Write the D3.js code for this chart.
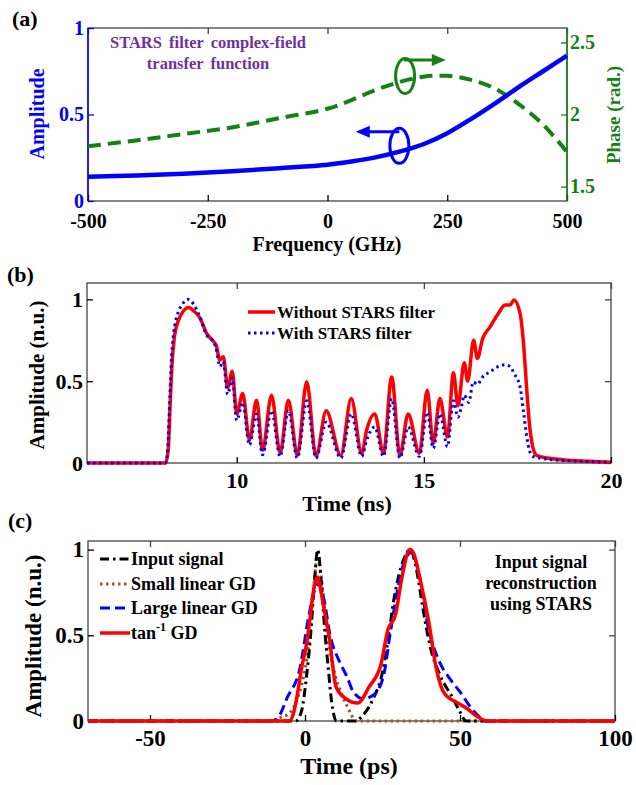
<!DOCTYPE html>
<html><head><meta charset="utf-8">
<script src="https://cdn.jsdelivr.net/npm/d3@7"></script>
<style>
body{margin:0;background:#fff;}
text{font-family:"Liberation Serif","Times New Roman",serif;font-weight:bold;}
</style>
</head><body>
<svg id="chart" width="636" height="785"></svg>
<script>
// ---------- Panel (a) data ----------
const freqGHz   = [-500,-400,-300,-200,-100,0,50,100,150,200,250,300,350,400,450,500];
const amplitude = [0.14,0.148,0.158,0.172,0.19,0.21,0.228,0.252,0.285,0.328,0.392,0.475,0.565,0.66,0.75,0.84];
const phaseRad  = [1.78,1.82,1.865,1.91,1.975,2.04,2.1,2.17,2.225,2.262,2.268,2.24,2.18,2.07,1.93,1.74];
const ticksA_x  = [-500,-250,0,250,500];
const ticksA_yL = [0,0.5,1];
const ticksA_yR = [1.5,2,2.5];

// ---------- Panel (b) data ----------
const timeNoFilter = [6,8.1,8.17,8.22,8.27,8.33,8.44,8.55,8.71,8.85,9.02,9.2,9.35,9.45,9.55,9.64,9.76,9.88,10.0,10.16,10.34,10.53,10.69,10.93,11.16,11.38,11.62,11.87,12.12,12.39,12.78,13.06,13.34,13.47,13.69,13.92,14.14,14.36,14.58,14.88,15.09,15.25,15.43,15.63,15.79,15.91,16.08,16.17,16.33,16.43,16.57,16.77,16.99,17.17,17.3,17.41,17.57,17.67,17.75,17.82,17.91,18.01,18.3,19,20];
const ampNoFilter  = [0,0,0.08,0.35,0.6,0.76,0.87,0.92,0.95,0.93,0.886,0.79,0.75,0.72,0.63,0.65,0.46,0.56,0.30,0.425,0.14,0.384,0.078,0.414,0.061,0.384,0.047,0.496,0.041,0.32,0.047,0.394,0.058,0.2,0.30,0.06,0.526,0.047,0.30,0.06,0.445,0.119,0.394,0.16,0.552,0.35,0.613,0.50,0.75,0.639,0.76,0.832,0.914,0.965,0.965,0.996,0.914,0.71,0.445,0.24,0.098,0.047,0.03,0.015,0.005];
const timeFilter = [6,8.1,8.16,8.21,8.26,8.32,8.42,8.55,8.69,8.85,9.02,9.2,9.35,9.45,9.55,9.64,9.76,9.88,10.0,10.16,10.34,10.53,10.69,10.93,11.16,11.38,11.62,11.87,12.12,12.39,12.78,13.06,13.34,13.47,13.69,13.92,14.14,14.36,14.58,14.88,15.09,15.25,15.43,15.63,15.79,15.91,16.0,16.08,16.2,16.32,16.43,16.57,16.77,16.99,17.17,17.3,17.41,17.57,17.67,17.75,17.82,17.91,18.1,19,20];
const ampFilter  = [0,0,0.10,0.38,0.65,0.80,0.91,0.97,1.0,0.97,0.89,0.78,0.75,0.70,0.59,0.62,0.42,0.52,0.26,0.37,0.11,0.30,0.05,0.32,0.04,0.32,0.03,0.38,0.03,0.25,0.03,0.30,0.04,0.14,0.22,0.04,0.394,0.03,0.22,0.04,0.31,0.09,0.30,0.10,0.38,0.28,0.34,0.414,0.37,0.496,0.48,0.526,0.557,0.59,0.60,0.59,0.547,0.465,0.30,0.16,0.078,0.04,0.03,0.012,0.005];
const ticksB_x = [10,15,20];
const ticksB_y = [0,0.5,1];

// ---------- Panel (c) data ----------
const tInput   = [-70,-3,-1.1,0.55,1.8,3,4.1,5.2,6.5,7.5,8.6,10.2,16,19,22,25.3,27,28.5,30,32,33.9,36,38,40.3,43.5,47.8,49.8,52,100];
const aInput   = [0,0,0.06,0.27,0.5,0.8,1.0,0.82,0.5,0.31,0.11,0,0,0.04,0.13,0.31,0.5,0.69,0.83,0.95,1.0,0.88,0.66,0.44,0.27,0.13,0.06,0,0];
const tSmall   = [-70,-12,-8,-4.8,-2.1,0,1.6,3,4.1,5.2,7.2,9.7,12,13.5,16.7,100];
const aSmall   = [0,0,0.02,0.05,0.15,0.3,0.5,0.82,0.98,0.85,0.5,0.27,0.15,0.09,0,0];
const tLarge   = [-70,-10.2,-8,-5.9,-1.6,1.1,3,4.5,6,8.1,11.3,13.5,15.6,18.8,22,25.3,27.4,30.1,32,34.4,36.5,39.8,43.5,47,50,54.3,58.6,100];
const aLarge   = [0,0,0.04,0.13,0.31,0.6,0.76,0.8,0.72,0.5,0.34,0.26,0.17,0.13,0.15,0.26,0.5,0.79,0.93,0.985,0.88,0.54,0.34,0.24,0.17,0.06,0,0];
const tArctan  = [-70,-5,-3.8,-2.7,-1.2,0.5,1.5,2.5,4.1,5.2,6.5,7.8,10,13.2,17,20.7,24.5,26.7,29.2,31.3,33.8,35,37.2,40,42.3,45,49.8,52.5,55.2,59,100];
const aArctan  = [0,0,0.04,0.13,0.3,0.45,0.58,0.73,0.84,0.75,0.62,0.49,0.2,0.13,0.105,0.2,0.33,0.53,0.62,0.84,1.0,0.98,0.82,0.57,0.31,0.16,0.1,0.07,0.03,0,0];
const ticksC_x = [-50,0,50,100];
const ticksC_y = [0,0.5,1];

// ---------- Drawing ----------
const svg = d3.select("#chart");
svg.append("rect").attr("width",636).attr("height",785).attr("fill","#fff");
const FRAME = "#444";
const FONT = '"Liberation Serif","Times New Roman",serif';
const zip = (xs, ys) => xs.map((v,i)=>[v, ys[i]]);
const fmt = d => String(d);

function frame(g, x, y){
  const [x0,x1] = x.range(), [y0,y1] = y.range();
  g.append("rect").attr("x",x0).attr("y",y1).attr("width",x1-x0).attr("height",y0-y1)
   .attr("fill","none").attr("stroke",FRAME).attr("stroke-width",1.3);
}
function styleAxis(sel, color, fs){
  sel.attr("font-family",FONT);
  sel.select(".domain").remove();
  sel.selectAll(".tick line").attr("stroke",color).attr("stroke-width",1.3);
  sel.selectAll(".tick text").attr("fill",color).attr("font-size",fs)
     .attr("font-family",FONT).attr("font-weight","bold");
}
function axes(g, x, y, xt, yt, fs, opts={}){
  const [x0,x1] = x.range(), [y0,y1] = y.range();
  const xc = opts.xColor||"#000", ylc = opts.yLColor||"#000";
  g.append("g").attr("transform",`translate(0,${y0})`)
    .call(d3.axisBottom(x).tickValues(xt).tickSize(-6).tickPadding(opts.xPad||9).tickFormat(fmt))
    .call(s=>styleAxis(s,xc,fs));
  g.append("g").attr("transform",`translate(0,${y1})`)
    .call(d3.axisTop(x).tickValues(xt).tickSize(-6).tickFormat(""))
    .call(s=>styleAxis(s,FRAME,fs));
  g.append("g").attr("transform",`translate(${x0},0)`)
    .call(d3.axisLeft(y).tickValues(yt).tickSize(-6).tickPadding(4).tickFormat(fmt))
    .call(s=>styleAxis(s,ylc,fs));
  if(!opts.noRight){
    g.append("g").attr("transform",`translate(${x1},0)`)
      .call(d3.axisRight(y).tickValues(yt).tickSize(-6).tickFormat(""))
      .call(s=>styleAxis(s,FRAME,fs));
  }
}

// ===== Panel (a) =====
{
  const g = svg.append("g");
  const x = d3.scaleLinear().domain([-500,500]).range([88,567]);
  const yL = d3.scaleLinear().domain([0,1]).range([201,28]);
  const yR = d3.scaleLinear().domain([1.4,2.6]).range([201,28]);
  const blue = "#0000ff", green = "#168016";
  frame(g,x,yL);
  axes(g,x,yL,ticksA_x,ticksA_yL,20,{yLColor:blue,noRight:true,xPad:13});
  g.append("line").attr("x1",88).attr("x2",88).attr("y1",28).attr("y2",201).attr("stroke",blue).attr("stroke-width",1.5);
  g.append("line").attr("x1",567).attr("x2",567).attr("y1",28).attr("y2",201).attr("stroke",green).attr("stroke-width",1.5);
  g.append("g").attr("transform","translate(567,0)")
    .call(d3.axisRight(yR).tickValues(ticksA_yR).tickSize(-6).tickPadding(3).tickFormat(fmt))
    .call(s=>styleAxis(s,green,20));

  const lineA = d3.line().x(d=>x(d[0])).y(d=>yL(d[1])).curve(d3.curveCatmullRom.alpha(0.5));
  const lineP = d3.line().x(d=>x(d[0])).y(d=>yR(d[1])).curve(d3.curveCatmullRom.alpha(0.5));
  g.append("path").attr("d",lineP(zip(freqGHz,phaseRad))).attr("fill","none")
    .attr("stroke",green).attr("stroke-width",4).attr("stroke-dasharray","13,7");
  g.append("path").attr("d",lineA(zip(freqGHz,amplitude))).attr("fill","none")
    .attr("stroke",blue).attr("stroke-width",4.5);

  // annotation: ellipses + arrows
  const gx = x(162), gy = yR(2.267), gay = yR(2.378);
  g.append("ellipse").attr("cx",gx).attr("cy",gy).attr("rx",9.5).attr("ry",17.5)
    .attr("fill","none").attr("stroke",green).attr("stroke-width",3);
  const gtip = x(247);
  g.append("line").attr("x1",gx-1).attr("x2",gtip-10).attr("y1",gay).attr("y2",gay).attr("stroke",green).attr("stroke-width",3);
  g.append("path").attr("d",`M${gtip},${gay} L${gtip-14},${gay-6} L${gtip-14},${gay+6} Z`).attr("fill",green);
  const bx = x(150), by = yL(0.319), bay = yL(0.40);
  g.append("ellipse").attr("cx",bx).attr("cy",by).attr("rx",9.5).attr("ry",17.5)
    .attr("fill","none").attr("stroke",blue).attr("stroke-width",3);
  const btip = x(59);
  g.append("line").attr("x1",bx).attr("x2",btip+10).attr("y1",bay).attr("y2",bay).attr("stroke",blue).attr("stroke-width",3);
  g.append("path").attr("d",`M${btip},${bay} L${btip+14},${bay-6} L${btip+14},${bay+6} Z`).attr("fill",blue);

  g.append("text").attr("x",208).attr("y",48).attr("text-anchor","middle").attr("font-size",16.5).attr("fill","#7030a0")
    .attr("word-spacing",3).text("STARS filter complex-field");
  g.append("text").attr("x",208).attr("y",69).attr("text-anchor","middle").attr("font-size",16.5).attr("fill","#7030a0")
    .attr("word-spacing",3).text("transfer function");

  g.append("text").attr("x",327).attr("y",251).attr("text-anchor","middle").attr("font-size",20).text("Frequency (GHz)");
  g.append("text").attr("transform","translate(44,114) rotate(-90)").attr("text-anchor","middle").attr("font-size",20).attr("fill",blue).text("Amplitude");
  g.append("text").attr("transform","translate(620,115) rotate(-90)").attr("text-anchor","middle").attr("font-size",19).attr("fill",green).text("Phase (rad.)");
  g.append("text").attr("x",12).attr("y",26).attr("font-size",22).text("(a)");
}

// ===== Panel (b) =====
{
  const g = svg.append("g");
  const x = d3.scaleLinear().domain([6,20]).range([87,611]);
  const y = d3.scaleLinear().domain([0,1.1]).range([463,283]);
  frame(g,x,y);
  axes(g,x,y,ticksB_x,ticksB_y,22,{});
  const ln = d3.line().x(d=>x(d[0])).y(d=>y(d[1])).curve(d3.curveMonotoneX);
  g.append("path").attr("d",ln(zip(timeNoFilter,ampNoFilter))).attr("fill","none").attr("stroke","#ff0000").attr("stroke-width",3.5);
  g.append("path").attr("d",ln(zip(timeFilter,ampFilter))).attr("fill","none").attr("stroke","#0000ff").attr("stroke-width",3).attr("stroke-dasharray","2.5,3.5");
  // legend
  g.append("line").attr("x1",248).attr("x2",275).attr("y1",312).attr("y2",312).attr("stroke","#ff0000").attr("stroke-width",3.5);
  g.append("line").attr("x1",248).attr("x2",275).attr("y1",333).attr("y2",333).attr("stroke","#0000ff").attr("stroke-width",3).attr("stroke-dasharray","2.5,3.5");
  g.append("text").attr("x",277).attr("y",318).attr("font-size",17).text("Without STARS filter");
  g.append("text").attr("x",277).attr("y",339).attr("font-size",17).text("With STARS filter");
  g.append("text").attr("x",347).attr("y",511).attr("text-anchor","middle").attr("font-size",22).text("Time (ns)");
  g.append("text").attr("transform","translate(44,375) rotate(-90)").attr("text-anchor","middle").attr("font-size",21).text("Amplitude (n.u.)");
  g.append("text").attr("x",7).attr("y",282).attr("font-size",22).text("(b)");
}

// ===== Panel (c) =====
{
  const g = svg.append("g");
  const x = d3.scaleLinear().domain([-70,100]).range([88,615]);
  const y = d3.scaleLinear().domain([0,1.05]).range([721,541]);
  frame(g,x,y);
  axes(g,x,y,ticksC_x,ticksC_y,23,{});
  const ln = d3.line().x(d=>x(d[0])).y(d=>y(d[1])).curve(d3.curveMonotoneX);
  const series = [
    {t:tSmall, a:aSmall, color:"#a0522d", w:3, dash:"2.5,3.5", name:"Small linear GD"},
    {t:tInput, a:aInput, color:"#000000", w:3, dash:"9,4,2.5,4", name:"Input signal"},
    {t:tLarge, a:aLarge, color:"#0000ff", w:3, dash:"10,5", name:"Large linear GD"},
    {t:tArctan, a:aArctan, color:"#ff0000", w:3.5, dash:null, name:"tan"}
  ];
  series.forEach(s=>{
    g.append("path").attr("d",ln(zip(s.t,s.a))).attr("fill","none").attr("stroke",s.color)
     .attr("stroke-width",s.w).attr("stroke-dasharray",s.dash);
  });
  const legendOrder = [series[1],series[0],series[2],series[3]];
  const rows = [559,584,608,633];
  legendOrder.forEach((s,i)=>{
    g.append("line").attr("x1",100).attr("x2",130).attr("y1",rows[i]).attr("y2",rows[i])
      .attr("stroke",s.color).attr("stroke-width",s.w).attr("stroke-dasharray",s.dash);
    const t = g.append("text").attr("x",131).attr("y",rows[i]+6).attr("font-size",18);
    if(s.name==="tan"){
      t.append("tspan").text("tan");
      t.append("tspan").attr("dy",-8).attr("font-size",12).text("-1");
      t.append("tspan").attr("dy",8).text(" GD");
    } else t.text(s.name);
  });
  ["Input signal","reconstruction","using STARS"].forEach((s,i)=>{
    g.append("text").attr("x",541).attr("y",568+i*21).attr("text-anchor","middle").attr("font-size",18).text(s);
  });
  g.append("text").attr("x",349).attr("y",774).attr("text-anchor","middle").attr("font-size",24).text("Time (ps)");
  g.append("text").attr("transform","translate(41,636) rotate(-90)").attr("text-anchor","middle").attr("font-size",23).text("Amplitude (n.u.)");
  g.append("text").attr("x",8).attr("y",528).attr("font-size",22).text("(c)");
}
</script>
</body></html>
